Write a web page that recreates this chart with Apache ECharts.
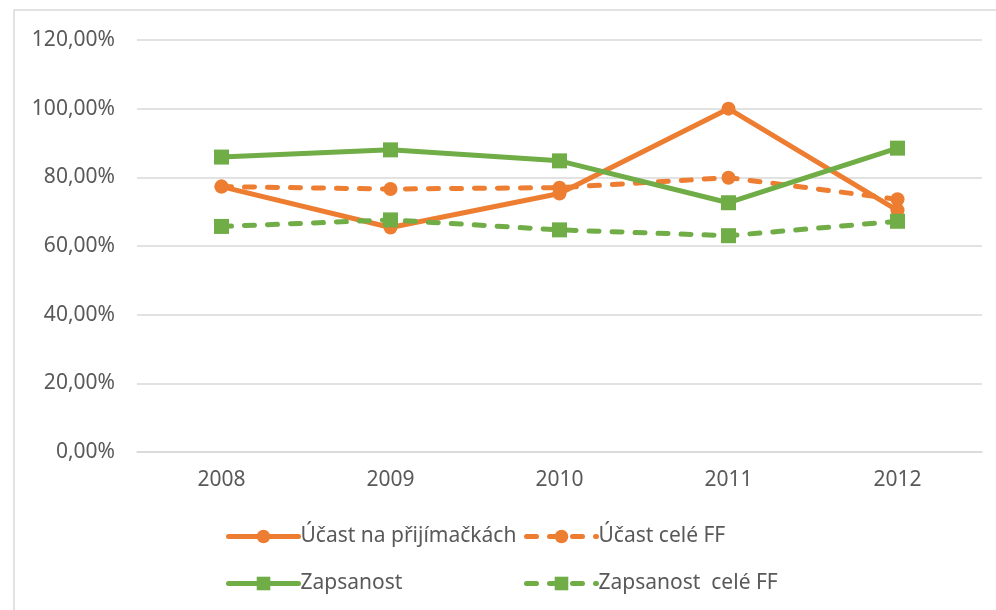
<!DOCTYPE html>
<html>
<head>
<meta charset="utf-8">
<script src="https://cdn.jsdelivr.net/npm/echarts@6/dist/echarts.min.js"></script>
<style>
  html, body { margin: 0; padding: 0; background: #fff; }
  #main { width: 996px; height: 610px; }
</style>
</head>
<body>
<div id="main"></div>
<script>
// data
const years = ["2008", "2009", "2010", "2011", "2012"];
const ucastPrijimacky = [77.3, 65.4, 75.3, 100.0, 70.4];
const ucastCeleFF = [77.3, 76.6, 77.0, 79.9, 73.6];
const zapsanost = [85.9, 88.0, 84.8, 72.6, 88.5];
const zapsanostCeleFF = [65.7, 67.6, 64.7, 63.0, 67.2];
const yTicks = [0, 20, 40, 60, 80, 100, 120];

const orange = "#ED7D31";
const green = "#70AD47";
const textColor = "#595959";
const gridColor = "#d9d9d9";

const chartDom = document.getElementById("main");
const myChart = echarts.init(chartDom);

function makeSeries(name, data, color, symbol, dashed) {
  return {
    name: name,
    type: "line",
    data: data,
    symbol: symbol,
    symbolSize: symbol === "circle" ? 14 : 15,
    showAllSymbol: true,
    itemStyle: { color: color },
    lineStyle: {
      color: color,
      width: 5,
      type: dashed ? [10, 13] : "solid",
      cap: "round"
    },
    emphasis: { disabled: true },
    animation: false
  };
}

const legendText = { color: textColor, fontSize: 21, fontFamily: "Noto Sans", padding: [0, 0, 0, -3] };
const legendItem = name => ({ name: name, lineStyle: { width: 5 } });

const option = {
  backgroundColor: "#fff",
  graphic: [{
    type: "rect",
    shape: { x: 14, y: 10, width: 1000, height: 620 },
    style: { fill: "none", stroke: gridColor, lineWidth: 1.5 },
    silent: true
  }],
  grid: { left: 137, top: 40, width: 845, height: 412 },
  legend: [
    {
      data: [legendItem("Účast na přijímačkách"), legendItem("Zapsanost")],
      orient: "vertical",
      left: 221, top: 521,
      itemWidth: 70, itemHeight: 17, itemGap: 26,
      textStyle: legendText,
      selectedMode: false
    },
    {
      data: [legendItem("Účast celé FF"), legendItem("Zapsanost  celé FF")],
      orient: "vertical",
      left: 519, top: 521,
      itemWidth: 70, itemHeight: 17, itemGap: 26,
      textStyle: legendText,
      selectedMode: false
    }
  ],
  xAxis: {
    type: "category",
    data: years,
    boundaryGap: true,
    axisLine: { lineStyle: { color: gridColor, width: 1.5 } },
    axisTick: { show: false },
    axisLabel: { color: textColor, fontSize: 21, fontFamily: "Noto Sans", margin: 18 }
  },
  yAxis: {
    type: "value",
    min: yTicks[0],
    max: yTicks[yTicks.length - 1],
    interval: 20,
    axisLine: { show: false },
    axisTick: { show: false },
    splitLine: { lineStyle: { color: gridColor, width: 1.5 } },
    axisLabel: {
      color: textColor, fontSize: 21, fontFamily: "Noto Sans", margin: 22,
      formatter: v => v.toFixed(2).replace(".", ",") + "%"
    }
  },
  series: [
    makeSeries("Účast na přijímačkách", ucastPrijimacky, orange, "circle", false),
    makeSeries("Účast celé FF", ucastCeleFF, orange, "circle", true),
    makeSeries("Zapsanost", zapsanost, green, "rect", false),
    makeSeries("Zapsanost  celé FF", zapsanostCeleFF, green, "rect", true)
  ]
};

option && myChart.setOption(option);
</script>
</body>
</html>
